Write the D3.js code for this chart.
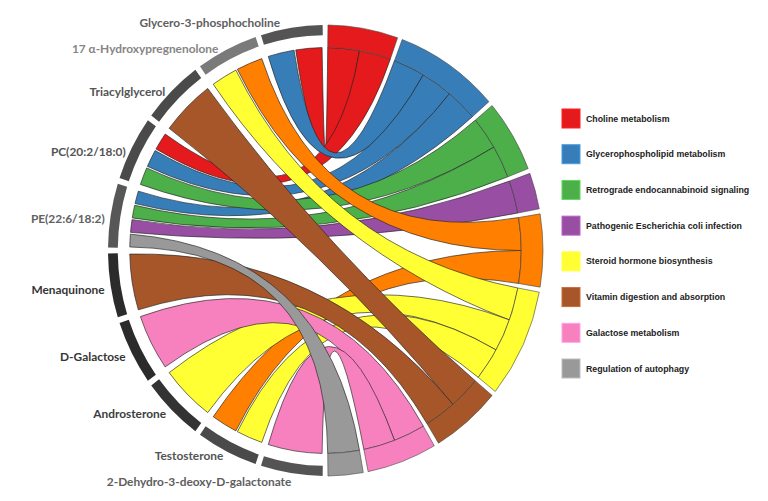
<!DOCTYPE html>
<html><head><meta charset="utf-8">
<script src="https://cdn.jsdelivr.net/npm/d3@7"></script>
<style>body{margin:0;background:#fff}svg{display:block}</style>
</head><body>
<svg id="chart" width="768" height="501"></svg>
<script>
// ---------- data ----------
const metabolites = ["Glycero-3-phosphocholine","17 α-Hydroxypregnenolone","Triacylglycerol","PC(20:2/18:0)","PE(22:6/18:2)","Menaquinone","D-Galactose","Androsterone","Testosterone","2-Dehydro-3-deoxy-D-galactonate"];
// grey level of each metabolite block (0 = black, 1 = white)
const metaboliteLevel = [0.33, 0.48, 0.29, 0.29, 0.34, 0.17, 0.17, 0.20, 0.29, 0.33];
const pathways = ["Choline metabolism","Glycerophospholipid metabolism","Retrograde endocannabinoid signaling","Pathogenic Escherichia coli infection","Ovarian steroidogenesis","Steroid hormone biosynthesis","Vitamin digestion and absorption","Galactose metabolism","Regulation of autophagy"];
const pathwayColors = ["#E41A1C","#377EB8","#4DAF4A","#984EA3","#FF7F00","#FFFF33","#A65628","#F781BF","#999999"];
const legendPathways = ["Choline metabolism","Glycerophospholipid metabolism","Retrograde endocannabinoid signaling","Pathogenic Escherichia coli infection","Steroid hormone biosynthesis","Vitamin digestion and absorption","Galactose metabolism","Regulation of autophagy"];
// links: metabolite index -> pathway index
const linkMetabolite = [0,0, 1,1, 2, 3,3,3, 4,4,4,4, 5, 6, 7, 8,8, 9];
const linkPathway    = [1,0, 5,4, 6, 0,1,2, 1,2,3,8, 6, 7, 5, 4,5, 7];

// ---------- layout ----------
const cx = 325.5, cy = 250.5, rx = 217.5, ry = 225.5;
const R = ry;
const deg = Math.PI / 180;
const padL = 1.5, padR = 1.3, linkPad = 0.5;

const svg = d3.select("#chart");
const g = svg.append("g").attr("transform", `translate(${cx},${cy}) scale(${rx / ry},1)`);

const nMet = metabolites.length;
const metStep = 180 / nMet;
const metSpan = metabolites.map((m, i) => ({ a0: -((i + 1) * metStep - padL / 2), a1: -(i * metStep + padL / 2) }));
const counts = pathways.map((p, j) => linkPathway.filter(x => x === j).length);
const unit = (180 - pathways.length * padR) / linkPathway.length;
let pos = padR / 2;
const pathSpan = pathways.map((p, j) => { const s = { a0: pos, a1: pos + counts[j] * unit }; pos = s.a1 + padR; return s; });

const links = linkMetabolite.map((m, k) => ({ m, p: linkPathway[k] }));
metabolites.forEach((_, i) => {
  const ls = links.filter(l => l.m === i).sort((a, b) => b.p - a.p);
  const w = (metSpan[i].a1 - metSpan[i].a0) / ls.length;
  ls.forEach((l, q) => { l.s0 = metSpan[i].a0 + q * w + linkPad / 2; l.s1 = metSpan[i].a0 + (q + 1) * w - linkPad / 2; });
});
pathways.forEach((_, j) => {
  const ls = links.filter(l => l.p === j).sort((a, b) => a.m - b.m);
  ls.forEach((l, q) => { l.t0 = pathSpan[j].a0 + q * unit; l.t1 = l.t0 + unit; });
});

// ---------- ribbons ----------
const ribbon = d3.ribbon().radius(R * 0.9);
const ordered = links.slice().sort((a, b) => a.p - b.p || a.m - b.m);
g.append("g").selectAll("path").data(ordered).join("path")
  .attr("d", l => ribbon({ source: { startAngle: l.s0 * deg, endAngle: l.s1 * deg }, target: { startAngle: l.t0 * deg, endAngle: l.t1 * deg } }))
  .attr("fill", l => pathwayColors[l.p])
  .attr("stroke", "#222").attr("stroke-width", 0.65).attr("vector-effect", "non-scaling-stroke");

// ---------- outer blocks ----------
const metArc = d3.arc().innerRadius(R * 0.955).outerRadius(R);
const grey = v => d3.rgb(v * 255, v * 255, v * 255).formatHex();
g.append("g").selectAll("path").data(metSpan).join("path")
  .attr("d", s => metArc({ startAngle: s.a0 * deg, endAngle: s.a1 * deg }))
  .attr("fill", (s, i) => grey(metaboliteLevel[i]));

const pathArc = d3.arc().innerRadius(R * 0.9).outerRadius(R);
g.append("g").selectAll("path").data(pathSpan).join("path")
  .attr("d", s => pathArc({ startAngle: s.a0 * deg, endAngle: s.a1 * deg }))
  .attr("fill", (s, j) => pathwayColors[j])
  .attr("stroke", "#444").attr("stroke-width", 0.6).attr("vector-effect", "non-scaling-stroke");

// ---------- metabolite labels ----------
svg.append("g").selectAll("text").data(metabolites).join("text")
  .each(function (name, i) {
    const thd = (metSpan[i].a0 + metSpan[i].a1) / 2;
    const th = thd * deg;
    const s = Math.sin(th), c = Math.cos(th);
    const px = cx + rx * s, py = cy - ry * c;
    const x = px - 6 + 6.5 * Math.pow(Math.max(0, -c), 8) - 6 * Math.pow(Math.max(0, c), 8);
    const y = py + 2 + (c > 0 ? -1.5 * c - 6 * Math.pow(c, 12) : 2 + 6 * Math.max(0, (-c - 0.95) / 0.05))
              + 3.5 * Math.exp(-Math.pow((thd + 72) / 12, 2));
    d3.select(this).attr("x", x).attr("y", y).attr("dy", "0.35em");
  })
  .attr("text-anchor", "end")
  .attr("font-family", "Lato, 'Open Sans', sans-serif").attr("font-weight", "bold").attr("font-size", "11.9px")
  .attr("fill", (d, i) => grey(Math.min(0.58, metaboliteLevel[i] + 0.04)))
  .text(d => d);

// ---------- legend ----------
const ly = d3.scalePoint().domain(legendPathways).range([118.5, 368.5]);
const leg = svg.append("g").selectAll("g").data(legendPathways).join("g")
  .attr("transform", d => `translate(562,${ly(d)})`);
leg.append("rect").attr("x", 0).attr("y", -9.5).attr("width", 18).attr("height", 19)
  .attr("fill", d => pathwayColors[pathways.indexOf(d)])
  .attr("stroke", d => d3.color(pathwayColors[pathways.indexOf(d)]).brighter(0.6).formatHex()).attr("stroke-width", 1);
leg.append("text").attr("x", 24).attr("dy", "0.35em")
  .attr("font-family", "'Liberation Sans', Arial, sans-serif").attr("font-weight", "bold").attr("font-size", "8.8px")
  .attr("fill", "#222").text(d => d);
</script>
</body></html>
